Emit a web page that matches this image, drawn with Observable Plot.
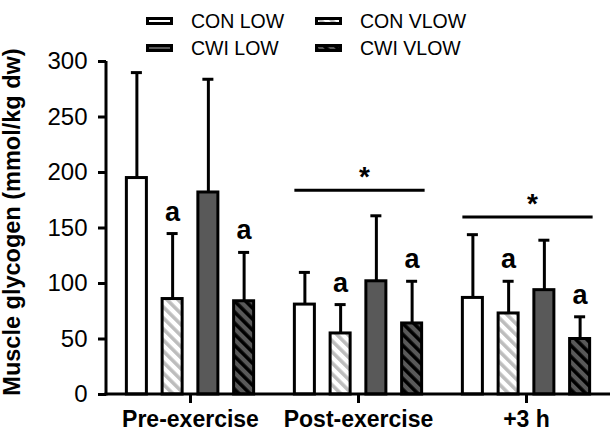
<!DOCTYPE html>
<html><head><meta charset="utf-8">
<script src="https://cdn.jsdelivr.net/npm/d3@7"></script>
<script src="https://cdn.jsdelivr.net/npm/@observablehq/plot@0.6"></script>
<style>
body{margin:0;background:#fff;font-family:"Liberation Sans",Arial,sans-serif;}
#chart svg{display:block}
</style></head><body>
<div id="chart"></div>
<script>
const groups = ["Pre-exercise", "Post-exercise", "+3 h"];
const series = ["CON LOW", "CON VLOW", "CWI LOW", "CWI VLOW"];
const preMeans = [195, 86, 182, 84];
const postMeans = [81, 55, 102, 64];
const h3Means = [87, 73, 94, 50];
const preSD = [95, 59, 102, 44];
const postSD = [29, 26, 59, 38];
const h3SD = [57, 29, 45, 20];
const letterSeries = ["CON VLOW", "CWI VLOW"];
const starGroups = ["Post-exercise", "+3 h"];
const starLevels = [184, 160];
const yTicks = [0, 50, 100, 150, 200, 250, 300];
const yLabel = "Muscle glycogen (mmol/kg dw)";

const fills = {"CON LOW": "#ffffff", "CON VLOW": "url(#hatchLight)", "CWI LOW": "#595959", "CWI VLOW": "url(#hatchDark)"};

const meansBy = [preMeans, postMeans, h3Means];
const sdBy = [preSD, postSD, h3SD];
const rows = [];
groups.forEach((g, gi) => series.forEach((s, si) => rows.push({group: g, series: s, mean: meansBy[gi][si], sd: sdBy[gi][si]})));
const capRows = rows.map(r => ({...r}));
const stars = starGroups.map((g, i) => ({group: g, level: starLevels[i]}));

const W = 610, H = 373, mL = 106, mR = 0, mT = 3, mB = 37;
const padIn = 0.44, padOut = 0.57;
const axisW = 3;

const chart = d3.select("#chart");
// Legend (with shared pattern definitions)
const leg = chart.append("svg").attr("width", W).attr("height", 58);
const defs = leg.append("defs");
function hatch(id, bg, fg) {
  const p = defs.append("pattern").attr("id", id).attr("patternUnits", "userSpaceOnUse")
    .attr("width", 7.8).attr("height", 7.8).attr("patternTransform", "rotate(-45)");
  p.append("rect").attr("width", 7.8).attr("height", 7.8).attr("fill", bg);
  p.append("rect").attr("width", 3.6).attr("height", 7.8).attr("fill", fg);
}
hatch("hatchLight", "#ffffff", "#bdbdbd");
hatch("hatchDark", "#595959", "#000000");
const colX = [146, 315], rowY = [21, 48];
series.forEach((s, i) => {
  const x = colX[i % 2], y = rowY[Math.floor(i / 2)];
  leg.append("rect").attr("x", x + 1.5).attr("y", y - 2.5).attr("width", 24).attr("height", 5)
    .attr("fill", fills[s]).attr("stroke", "#000").attr("stroke-width", 3);
  leg.append("text").attr("x", x + 45).attr("y", y).attr("dy", "0.36em")
    .attr("font-size", 19.5).attr("font-family", '"Liberation Sans", Arial, sans-serif').attr("fill", "#000").text(s);
});

const plot = Plot.plot({
  width: W, height: H, marginTop: mT, marginBottom: mB, marginLeft: mL, marginRight: mR,
  style: {fontFamily: '"Liberation Sans", Arial, sans-serif', color: "#000", background: "transparent", overflow: "visible"},
  fx: {domain: groups, padding: 0, label: null},
  x: {domain: series, paddingInner: padIn, paddingOuter: padOut, round: false, axis: null},
  y: {domain: [0, 300]},
  marks: [
    Plot.axisY({ticks: yTicks, tickSize: 8, tickPadding: 11, fontSize: 24, strokeWidth: 3, label: null}),
    Plot.axisFx({anchor: "bottom", tickSize: 9, tickPadding: 7, fontSize: 23, fontWeight: "bold", strokeWidth: 3, label: null}),
    Plot.ruleX(rows, {fx: "group", x: "series", y1: "mean", y2: d => d.mean + d.sd, stroke: "#000", strokeWidth: 3}),
    Plot.tickY(capRows, {fx: "group", x: "series", y: d => d.mean + d.sd, stroke: "#000", strokeWidth: 3, insetLeft: 4.5, insetRight: 4.5}),
    ...series.map(s => Plot.barY(rows.filter(r => r.series === s), {fx: "group", x: "series", y: "mean", fill: fills[s], stroke: "#000", strokeWidth: 3})),
    Plot.ruleY(stars, {fx: "group", y: "level", x1: () => series[0], x2: () => series[3], stroke: "#000", strokeWidth: 3, insetRight: -3}),
    Plot.text(rows.filter(r => letterSeries.includes(r.series)), {fx: "group", x: "series", y: d => d.mean + d.sd, text: () => "a", dy: -13, lineAnchor: "bottom", fontSize: 27, fontWeight: "bold"}),
    Plot.text(stars, {fx: "group", y: "level", text: () => "*", dy: -4, dx: 6, fontSize: 28, fontWeight: "bold", lineAnchor: "bottom"}),
    Plot.text([yLabel], {fx: () => groups[0], frameAnchor: "left", text: d => d, rotate: -90, textAnchor: "middle", lineAnchor: "middle", dx: -94, dy: -6, fontSize: 23.5, fontWeight: "bold"})
  ]
});

const wrap = chart.append("div").style("position", "relative").style("width", W + "px").style("height", H + "px");
wrap.node().appendChild(plot);

// Axis lines, positioned from the plot's own scales, in an overlay on top of the plot
const ys = plot.scale("y");
const fxs = plot.scale("fx");
const y0 = ys.apply(0), yTop = ys.apply(yTicks[yTicks.length - 1]);
const fxRange = (fxs && fxs.range) ? fxs.range : [mL, W - mR];
const xl = Math.min(...fxRange), xr = Math.max(...fxRange);
const ov = wrap.append("svg").attr("width", W).attr("height", H)
  .style("position", "absolute").style("left", "0px").style("top", "0px").style("pointer-events", "none").style("overflow", "visible");
ov.append("rect").attr("x", xl - axisW / 2).attr("y", yTop).attr("width", axisW).attr("height", y0 - yTop + axisW / 2).attr("fill", "#000");
ov.append("rect").attr("x", xl - axisW / 2).attr("y", y0 - axisW / 2).attr("width", xr - xl + axisW / 2).attr("height", axisW).attr("fill", "#000");
</script>
</body></html>
